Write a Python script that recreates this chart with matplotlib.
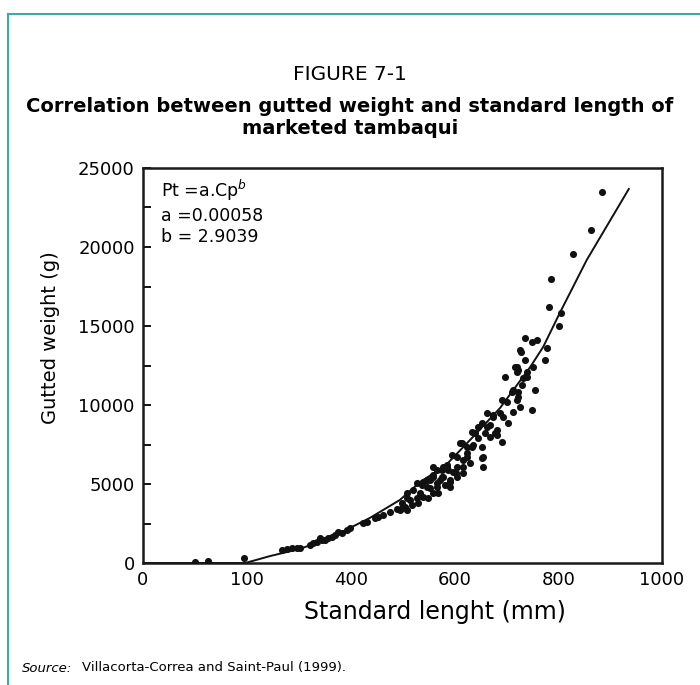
import numpy as np
import matplotlib
matplotlib.use('Agg')
import matplotlib.pyplot as plt
from matplotlib.lines import Line2D

# standard length (mm) and gutted weight (g) of each fish
length = [100, 125, 195,
          268, 277, 287, 297, 303, 322, 328, 335, 341, 345, 351, 356, 364, 370, 376, 383, 393, 399,
          424, 432, 447, 453, 462, 476, 489, 499, 505, 509,
          509, 514, 520, 528, 530, 539, 539, 547, 553, 559, 559, 567, 567, 572, 576, 578, 582, 586,
          588, 592, 592, 595, 605, 605, 605, 603, 615, 617, 617, 624, 624, 624, 634, 636, 640, 646,
          653, 653, 655, 655, 663, 663, 669, 674, 678, 688, 692, 692, 698, 701, 703, 713, 717, 721,
          721, 723, 723, 726, 726, 728, 732, 736, 736, 740, 750, 750, 752, 755, 759, 775, 779, 782,
          786, 802, 805, 829, 863, 884,
          721, 740, 730, 711, 723, 713, 674, 694, 669, 682, 659, 682, 646, 611, 634, 653, 630, 586,
          559, 576, 597, 559, 617, 578, 547, 538, 567, 592, 553, 534, 568, 509, 528, 549, 499, 518, 495]
weight = [60, 130, 320,
          820, 890, 950, 950, 950, 1140, 1270, 1330, 1580, 1460, 1460, 1580, 1650, 1770, 1960, 1900, 2090, 2220,
          2530, 2600, 2850, 2910, 3040, 3230, 3420, 3480, 3550, 3360,
          4430, 3990, 4620, 5060, 3800, 4180, 5130, 4810, 5250, 4430, 5440, 5890, 4810, 5250, 5440, 6080, 4940, 6080,
          5890, 5250, 4810, 6840, 6710, 6080, 5440, 5700, 7600, 6520, 6080, 7340, 6710, 6960, 8290, 7470, 8230, 8610,
          8860, 7340, 6710, 6080, 9500, 8610, 7980, 9370, 8230, 9500, 10320, 7660, 11770, 10190, 8860, 10950, 12410, 12410,
          10320, 10820, 12220, 13480, 9880, 13360, 11710, 14240, 12850, 12090, 13990, 9690, 12410, 10950, 14120, 12850, 13610, 16210,
          17980, 15000, 15830, 19560, 21080, 23480,
          12090, 11770, 11270, 10820, 10510, 9560, 9240, 9240, 8730, 8420, 8230, 8100, 7910, 7600, 7340, 6650, 6330, 6200,
          6080, 5890, 5760, 5570, 5700, 5440, 5250, 4940, 5060, 5130, 4750, 4430, 4430, 4110, 4110, 4110, 3800, 3670, 3350]

# fitted curve Pt = a.Cp^b as drawn on the figure
fit_length = [0, 197, 245, 302, 360, 437, 495, 534, 582, 630, 688, 746, 771, 803, 855, 936]
fit_weight = [0, 0, 440, 890, 1580, 2850, 3990, 5130, 6140, 7780, 9810, 12400, 13670, 15820, 19180, 23670]

x_ticks = [0, 200, 400, 600, 800, 1000]
x_labels = ['0', '100', '400', '600', '800', '1000']
y_ticks = [0, 5000, 10000, 15000, 20000, 25000]
y_minor = [2500, 7500, 12500, 17500, 22500]

fig = plt.figure(figsize=(7, 6.85), dpi=100)

# teal frame on the left and top of the box
teal = '#3fa9a6'
fig.add_artist(Line2D([8/700, 1], [1-14/685, 1-14/685], color=teal, lw=1.5))
fig.add_artist(Line2D([8/700, 8/700], [0, 1-14/685], color=teal, lw=1.5))

head = 'DejaVu Sans'
fig.text(0.5, 1-74/685, 'FIGURE 7-1', ha='center', va='center', fontsize=14.5, family=head)
fig.text(0.5, 1-117/685, 'Correlation between gutted weight and standard length of\nmarketed tambaqui',
         ha='center', va='center', fontsize=14, fontweight='bold', family=head, linespacing=1.2)
fig.text(22/700, 1-668/685, 'Source:', ha='left', va='center', fontsize=9.5, style='italic', family=head)
fig.text(82/700, 1-668/685, 'Villacorta-Correa and Saint-Paul (1999).', ha='left', va='center', fontsize=9.5, family=head)

ax = fig.add_axes([143/700, 1-563/685, (662-143)/700, (563-168)/685])
ax.scatter(length, weight, s=26, color='#111111', zorder=3, linewidths=0)
ax.plot(fit_length, fit_weight, color='#111111', lw=1.4, zorder=2)

ax.set_xlim(0, 1000)
ax.set_ylim(0, 25000)
ax.set_xticks(x_ticks)
ax.set_xticklabels(x_labels)
ax.set_yticks(y_ticks)
ax.set_yticks(y_minor, minor=True)
ax.tick_params(axis='x', length=0, pad=6, labelsize=13)
ax.tick_params(axis='y', which='both', direction='in', length=6, width=1.3, pad=6, labelsize=13)
for sp in ax.spines.values():
    sp.set_linewidth(1.8)
    sp.set_color('#1a1a1a')

ax.set_xlabel('Standard lenght (mm)', fontsize=17)
ax.xaxis.set_label_coords((435-143)/519, -(600-563)/395)
ax.set_ylabel('Gutted weight (g)', fontsize=14)
ax.yaxis.set_label_coords(-(143-60)/519, (563-338)/395)

ax.text(0.035, 0.975, 'Pt =a.Cp$^{b}$\na =0.00058\nb = 2.9039', transform=ax.transAxes,
        ha='left', va='top', fontsize=12.5, linespacing=1.25)

fig.savefig('out.png', dpi=100)
